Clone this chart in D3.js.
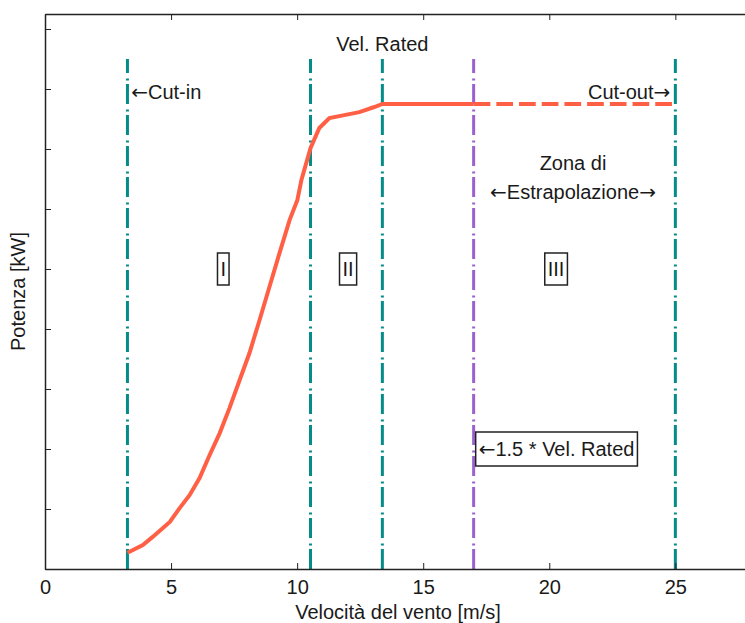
<!DOCTYPE html>
<html>
<head>
<meta charset="utf-8">
<script src="https://cdn.jsdelivr.net/npm/d3@7"></script>
<style>
  body { margin: 0; background: #fff; }
  text { font-family: "Liberation Sans", Arial, sans-serif; fill: #1a1a1a; }
  tspan.arrow { font-family: "DejaVu Sans", sans-serif; }
</style>
</head>
<body>
<div id="chart"></div>
<script>
// power curve (kW) vs wind speed (m/s)
var curveSpeed = [3.27, 3.88, 4.27, 4.95, 5.34, 5.74, 6.13, 6.53, 6.93, 7.32, 7.72, 8.11, 8.51, 8.90, 9.30, 9.70, 10.01, 10.17, 10.53, 10.88, 11.28, 11.87, 12.47, 13.06, 13.38, 17];
var curvePower = [54, 80, 107, 157, 203, 247, 303, 380, 453, 537, 630, 720, 830, 940, 1053, 1163, 1230, 1297, 1403, 1470, 1503, 1513, 1523, 1540, 1550, 1550];
var extrapSpeed = [17, 25];
var extrapPower = [1550, 1550];

var cutIn = 3.27, regionBound = 10.53, ratedSpeed = 13.38, extrapStart = 17, cutOut = 25;
var teal = [cutIn, regionBound, ratedSpeed, cutOut];
var purple = [extrapStart];

var xTicks = [0, 5, 10, 15, 20, 25];
var yTicks = [0, 200, 400, 600, 800, 1000, 1200, 1400, 1600, 1800];

var W = 745, H = 623;

var x = d3.scaleLinear().domain([0, 28]).range([45, 751]);
var y = d3.scaleLinear().domain([0, 1850]).range([569, 14]);

var svg = d3.select("#chart").append("svg")
    .attr("width", W).attr("height", H);

svg.append("rect").attr("width", W).attr("height", H).attr("fill", "#fff");

// vertical dash-dot lines
function vline(v, color) {
  svg.append("line")
    .attr("x1", x(v)).attr("x2", x(v))
    .attr("y1", y(0)).attr("y2", y(1700))
    .attr("stroke", color).attr("stroke-width", 3)
    .attr("stroke-dasharray", "20,3.5,2,5.5");
}
teal.forEach(function(v) { vline(v, "#068c88"); });
purple.forEach(function(v) { vline(v, "#9b62cf"); });

var line = d3.line()
  .x(function(d) { return x(d[0]); })
  .y(function(d) { return y(d[1]); });

svg.append("path")
  .datum(d3.zip(curveSpeed, curvePower))
  .attr("d", line)
  .attr("fill", "none").attr("stroke", "#ff5f45").attr("stroke-width", 4);

svg.append("path")
  .datum(d3.zip(extrapSpeed, extrapPower))
  .attr("d", line)
  .attr("fill", "none").attr("stroke", "#ff5f45").attr("stroke-width", 4)
  .attr("stroke-dasharray", "16.7,6");

// axes, MATLAB box style with inward ticks
svg.append("g")
  .attr("transform", "translate(0," + y(0) + ")")
  .style("font-size", "20px")
  .call(d3.axisBottom(x).tickValues(xTicks).tickSizeInner(-6).tickSizeOuter(0).tickPadding(11));
svg.append("g")
  .attr("transform", "translate(0," + y(1850) + ")")
  .call(d3.axisTop(x).tickValues(xTicks).tickSizeInner(-6).tickSizeOuter(0).tickFormat(""));
svg.append("g")
  .attr("transform", "translate(" + x(0) + ",0)")
  .call(d3.axisLeft(y).tickValues(yTicks).tickSizeInner(-6).tickSizeOuter(0).tickFormat(""));
svg.append("g")
  .attr("transform", "translate(" + x(28) + ",0)")
  .call(d3.axisRight(y).tickValues(yTicks).tickSizeInner(-6).tickSizeOuter(0).tickFormat(""));

svg.selectAll(".domain").attr("stroke", "#222").attr("stroke-width", 1.5);
svg.selectAll(".tick line").attr("stroke", "#222");
svg.selectAll(".tick text").attr("fill", "#1a1a1a").style("font-family", "Liberation Sans, Arial, sans-serif");

svg.append("text")
  .attr("x", 398).attr("y", 619)
  .attr("text-anchor", "middle").style("font-size", "20px")
  .text("Velocità del vento [m/s]");

svg.append("text")
  .attr("transform", "translate(25," + (y(0) + y(1850)) / 2 + ") rotate(-90)")
  .attr("text-anchor", "middle").style("font-size", "20px")
  .text("Potenza [kW]");

// annotations; arrows drawn in DejaVu Sans for a full-width glyph
function label(tx, ty, str, anchor, boxed) {
  var t = svg.append("text")
    .attr("x", x(tx)).attr("y", y(ty)).attr("dy", "0.35em")
    .attr("text-anchor", anchor).style("font-size", "20px");
  str.split(/([\u2190\u2192])/).forEach(function(part) {
    if (!part) return;
    t.append("tspan")
      .attr("class", /[\u2190\u2192]/.test(part) ? "arrow" : null)
      .text(part);
  });
  if (boxed) {
    var b = t.node().getBBox();
    svg.insert("rect", function() { return t.node(); })
      .attr("x", b.x - 3).attr("y", b.y - 5)
      .attr("width", b.width + 6).attr("height", b.height + 10)
      .attr("fill", "#fff").attr("stroke", "#222").attr("stroke-width", 1.5);
  }
}

label(ratedSpeed, 1750, "Vel. Rated", "middle");
label(cutIn + 0.15, 1590, "\u2190Cut-in", "start");
label(cutOut - 0.2, 1590, "Cut-out\u2192", "end");
label(20.94, 1353, "Zona di", "middle");
label(20.94, 1257, "\u2190Estrapolazione\u2192", "middle");
label(7.07, 1000, "I", "middle", true);
label(12.02, 1000, "II", "middle", true);
label(20.27, 1000, "III", "middle", true);
label(17.2, 400, "\u21901.5 * Vel. Rated", "start", true);
</script>
</body>
</html>
